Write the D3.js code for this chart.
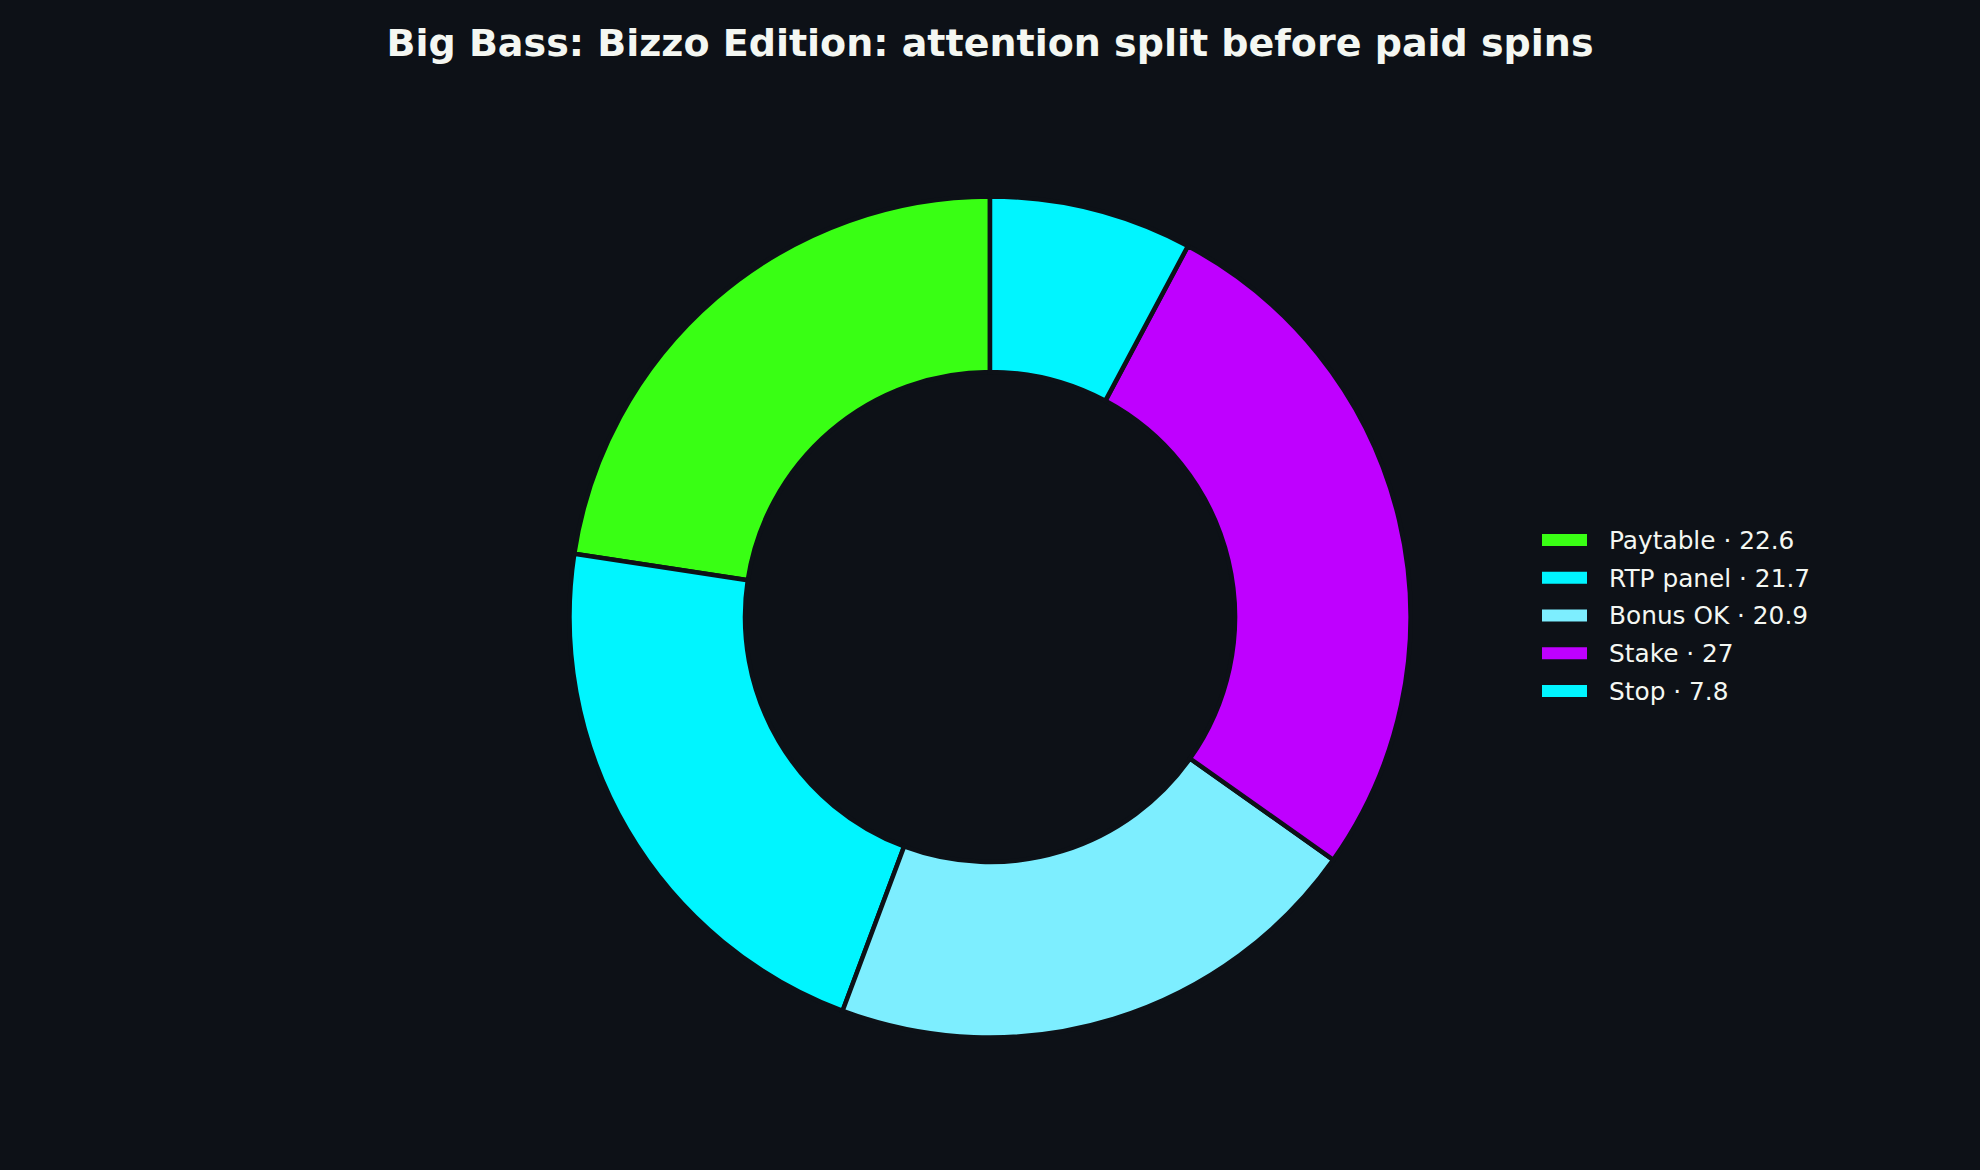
<!DOCTYPE html>
<html>
<head>
    <meta charset="utf-8">
    <title>Big Bass: Bizzo Edition - attention split</title>
    <script src="https://d3js.org/d3.v7.min.js"></script>
    <style>
        html, body { margin: 0; padding: 0; background: #0d1117; }
        svg { display: block; }
    </style>
</head>
<body>
    <div id="chart"></div>

    <script>
        // data
        var categories = ["Paytable", "RTP panel", "Bonus OK", "Stake", "Stop"];
        var shares = [22.6, 21.7, 20.9, 27, 7.8];
        var colors = ["#39ff14", "#00f5ff", "#7deeff", "#bf00ff", "#00f5ff"];

        var width = 1980,
            height = 1170,
            bg = "#0d1117";

        var svg = d3.select("#chart")
                    .append("svg")
                    .attr("width", width)
                    .attr("height", height)
                    .style("background", bg);

        // title
        svg.append("text")
           .attr("x", 990)
           .attr("y", 56)
           .attr("text-anchor", "middle")
           .style("font-family", "DejaVu Sans")
           .style("font-weight", "bold")
           .style("font-size", "38px")
           .style("fill", "#f4f7f2")
           .text("Big Bass: Bizzo Edition: attention split before paid spins");

        // donut: starts at 12 o'clock and runs counter-clockwise
        var cx = 990, cy = 617,
            outerR = 420.5, innerR = 245;

        var pie = d3.pie()
                    .sort(null)
                    .startAngle(0)
                    .endAngle(-2 * Math.PI)
                    .value(function(d) { return d; });

        var arc = d3.arc()
                    .innerRadius(innerR)
                    .outerRadius(outerR);

        var g = svg.append("g")
                   .attr("transform", "translate(" + cx + "," + cy + ")");

        g.selectAll("path")
         .data(pie(shares))
         .enter()
         .append("path")
         .attr("d", arc)
         .style("fill", function(d, i) { return colors[i]; })
         .style("stroke", bg)
         .style("stroke-width", 4.5)
         .style("stroke-linejoin", "miter");

        // legend
        var legendY = d3.scalePoint()
                        .domain(categories)
                        .range([540, 691]);

        var legend = svg.append("g");

        var item = legend.selectAll("g")
                         .data(categories)
                         .enter()
                         .append("g")
                         .attr("transform", function(d) { return "translate(1542," + legendY(d) + ")"; });

        item.append("rect")
            .attr("x", 0)
            .attr("y", -6)
            .attr("width", 45)
            .attr("height", 12)
            .style("fill", function(d, i) { return colors[i]; });

        item.append("text")
            .attr("x", 67)
            .attr("y", 0)
            .attr("dy", "0.36em")
            .style("font-family", "DejaVu Sans")
            .style("font-size", "24.8px")
            .style("fill", "#f4f7f2")
            .text(function(d, i) { return d + " \u00b7 " + shares[i]; });
    </script>
</body>
</html>
